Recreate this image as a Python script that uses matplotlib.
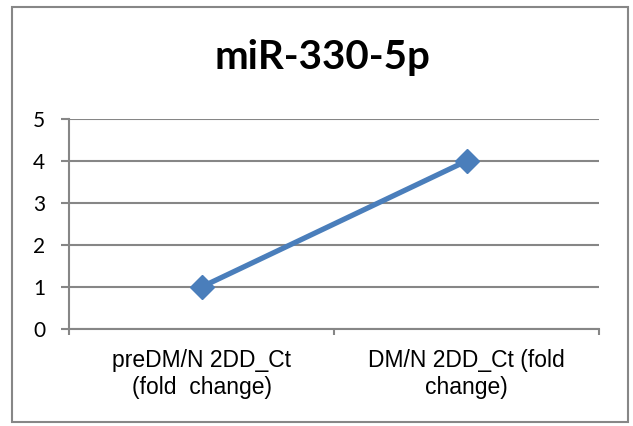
import matplotlib
matplotlib.use("Agg")
import matplotlib.pyplot as plt
from matplotlib.patches import Rectangle

categories = ["preDM/N 2DD_Ct\n(fold  change)", "DM/N 2DD_Ct (fold\nchange)"]
values = [1, 4]
yticks = [0, 1, 2, 3, 4, 5]
title = "miR-330-5p"

W, H = 633, 426
fig = plt.figure(figsize=(W / 100, H / 100), dpi=100)
fig.patch.set_facecolor("white")

# outer chart frame
fig.patches.append(Rectangle((12 / W, 1 - 422 / H), (628 - 12) / W, (422 - 7) / H,
                             transform=fig.transFigure, fill=False,
                             edgecolor="#878787", linewidth=1.5))

left, right, top, bottom = 69, 599, 119, 329
ax = fig.add_axes([left / W, 1 - bottom / H, (right - left) / W, (bottom - top) / H])

grid_c = "#868686"
x = [i + 0.5 for i in range(len(categories))]
ax.plot(x, values, color="#4A7EBB", linewidth=3.8, marker="D", markersize=12,
        markerfacecolor="#4A7EBB", markeredgecolor="#4A7EBB", zorder=3,
        solid_capstyle="butt")

ax.set_xlim(0, len(categories))
ax.set_ylim(0, 5)
ax.set_yticks(yticks)
ax.set_yticklabels([str(v) for v in yticks], fontsize=15, family="Lato")
ax.set_xticks(range(len(categories) + 1))
ax.set_xticklabels([])
ax.set_xticks(x, minor=True)
ax.set_xticklabels(categories, minor=True, fontsize=16.5, family="Liberation Sans",
                   linespacing=1.2)
ax.tick_params(axis="x", which="minor", length=0, pad=14.5)
ax.tick_params(axis="x", which="major", length=4, width=1.5, color=grid_c, direction="out")
ax.tick_params(axis="y", length=6, width=1.5, color=grid_c, direction="out", pad=11)

ax.grid(axis="y", color=grid_c, linewidth=1.5)
ax.set_axisbelow(True)
for s in ["top", "right"]:
    ax.spines[s].set_visible(False)
for s in ["left", "bottom"]:
    ax.spines[s].set_color(grid_c)
    ax.spines[s].set_linewidth(1.5)

fig.text(322 / W, 1 - 58 / H, title, ha="center", va="center", fontsize=29,
         fontweight="bold", family="Lato")

fig.savefig("out.png", dpi=100, facecolor="white")
